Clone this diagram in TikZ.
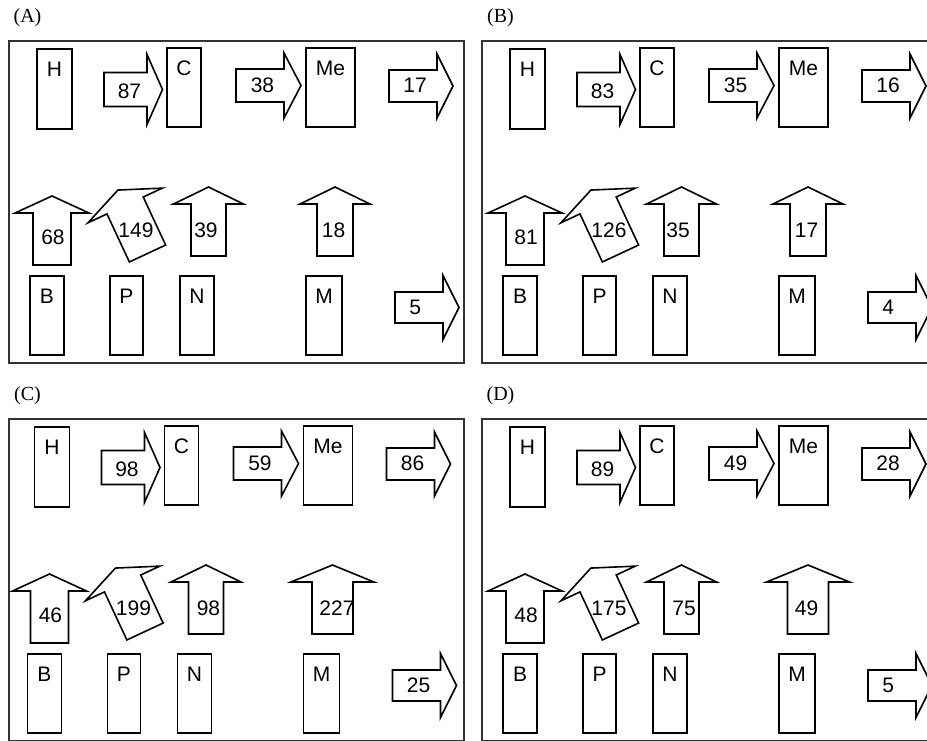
\documentclass[tikz,border=0pt]{standalone}
\usepackage{fontspec}
\setmainfont{Liberation Serif}
\newfontfamily\arialfont{Liberation Sans}

% block arrow pointing right: shaft left, head base, tip, centre y, shaft half, head half
\newcommand{\rightblock}[6]{%
  \draw[blockline] ({#1},{#4-#5}) -- ({#2},{#4-#5}) -- ({#2},{#4-#6}) -- ({#3},{#4})
    -- ({#2},{#4+#6}) -- ({#2},{#4+#5}) -- ({#1},{#4+#5}) -- cycle;}
% block arrow pointing up: centre x, bottom, head base, tip, shaft half, head half
\newcommand{\upblock}[6]{%
  \draw[blockline] ({#1-#5},{#2}) -- ({#1-#5},{#3}) -- ({#1-#6},{#3}) -- ({#1},{#4})
    -- ({#1+#6},{#3}) -- ({#1+#5},{#3}) -- ({#1+#5},{#2}) -- cycle;}

\tikzset{
  blockline/.style={line width=0.8pt, line join=miter},
  framebox/.style={line width=0.6pt, draw=black!80},
  unitbox/.style={draw, line width=0.8pt, inner sep=0pt, minimum height=39.5pt},
  numtext/.style={font=\arialfont\fontsize{10.5pt}{12pt}\selectfont, inner sep=0pt},
  lettertext/.style={numtext, anchor=north, yshift=-6.5pt},
  tagtext/.style={font=\fontsize{10pt}{12pt}\selectfont, inner sep=0pt}
}

\begin{document}
\begin{tikzpicture}[x=0.5pt, y=-0.5pt]
  \path[use as bounding box, clip] (0,0) rectangle (927,740);
  \fill[white] (0,0) rectangle (927,740);
  \foreach \ox/\oy/\dx/\tag/\ta/\tb/\tc/\la/\lb/\lc/\ld/\re/\nx/\mw in {
      0/0/0/A/87/38/17/68/149/39/18/5/206/0,
      473/0/0/B/83/35/16/81/126/35/17/4/205/0,
      0/378/-2.5/C/98/59/86/46/199/98/227/25/211/1,
      473/378/0/D/89/49/28/48/175/75/49/5/211/1}{
    \pgfmathsetmacro{\msw}{18+2.5*\mw}
    \pgfmathsetmacro{\mhw}{35+6.5*\mw}
    \begin{scope}[shift={(\ox,\oy)}]
      \node[tagtext] (tag\tag) at (27.5,17.5) {(\tag)};
      \draw[framebox] (9,41) rectangle (464,363);
      \begin{scope}[shift={(\dx,0)}]
        % top row
        \node[unitbox, minimum width=17.5pt, minimum height=40pt, label={[lettertext]north:H}] (H\tag) at (54.5,89) {};
        \node[unitbox, minimum width=17pt, label={[lettertext]north:C}] (C\tag) at (184,87.5) {};
        \node[unitbox, minimum width=24.5pt, label={[lettertext]north:Me}] (Me\tag) at (330.5,87.5) {};
        \rightblock{104}{147}{162.5}{89.5}{17}{35}
        \rightblock{236}{284}{301}{85.5}{16.5}{32.5}
        \rightblock{389}{437}{453}{86}{16}{32}
        \node[numtext] (hc\tag) at (129.5,91.5) {\ta};
        \node[numtext] (cm\tag) at (262.5,85) {\tb};
        \node[numtext] (mo\tag) at (415,85) {\tc};
        % bottom row
        \node[unitbox, minimum width=17pt, label={[lettertext]north:B}] (B\tag) at (47,315.5) {};
        \node[unitbox, minimum width=16.5pt, label={[lettertext]north:P}] (P\tag) at (126.5,315.5) {};
        \node[unitbox, minimum width=17pt, label={[lettertext]north:N}] (N\tag) at (197,315.5) {};
        \node[unitbox, minimum width=18pt, label={[lettertext]north:M}] (M\tag) at (324,315.5) {};
        \upblock{52}{265}{213}{196}{19}{37}
        \begin{scope}[shift={(147.5,253.5)}, rotate=25]
          \upblock{0}{0}{-53}{-70}{20}{41}
        \end{scope}
        \upblock{208.5}{256}{204}{187}{17.5}{35}
        \upblock{335}{256}{204}{187}{\msw}{\mhw}
        \rightblock{395}{443}{459}{307.5}{15.5}{32}
        \node[numtext] (bh\tag) at (53,237) {\la};
        \node[numtext] (ph\tag) at (136,230) {\lb};
        \node[numtext] (nc\tag) at (\nx,230) {\lc};
        \node[numtext, anchor=west] (mm\tag) at (321.5,230) {\ld};
        \node[numtext, anchor=west] (mx\tag) at (409,307.5) {\re};
      \end{scope}
    \end{scope}
  }
\end{tikzpicture}
\end{document}
